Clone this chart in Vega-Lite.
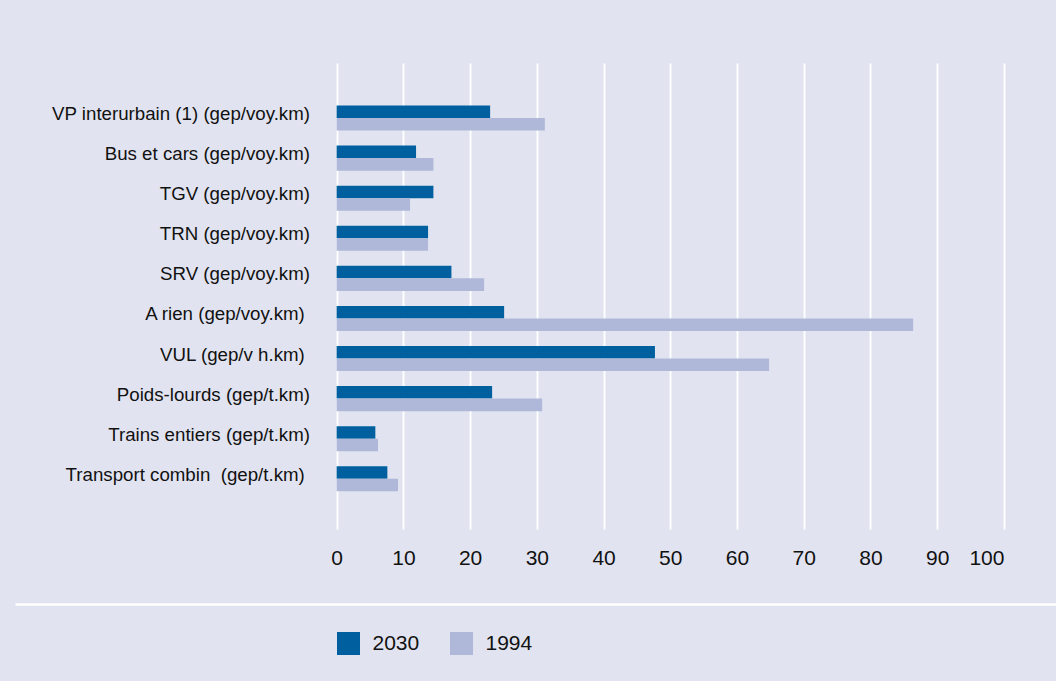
{
  "$schema": "https://vega.github.io/schema/vega-lite/v6.json",
  "width": 1041,
  "height": 466,
  "autosize": "none",
  "padding": {"left": 15, "top": 63, "right": 0, "bottom": 152},
  "background": "#e1e4f0",
  "config": {
    "view": {"stroke": null},
    "font": "Liberation Sans"
  },
  "data": {
    "values": [
      {"mode": "VP interurbain (1) (gep/voy.km)", "annee": "2030", "valeur": 23.0},
      {"mode": "VP interurbain (1) (gep/voy.km)", "annee": "1994", "valeur": 31.2},
      {"mode": "Bus et cars (gep/voy.km)", "annee": "2030", "valeur": 11.9},
      {"mode": "Bus et cars (gep/voy.km)", "annee": "1994", "valeur": 14.5},
      {"mode": "TGV (gep/voy.km)", "annee": "2030", "valeur": 14.5},
      {"mode": "TGV (gep/voy.km)", "annee": "1994", "valeur": 11.0},
      {"mode": "TRN (gep/voy.km)", "annee": "2030", "valeur": 13.7},
      {"mode": "TRN (gep/voy.km)", "annee": "1994", "valeur": 13.7},
      {"mode": "SRV (gep/voy.km)", "annee": "2030", "valeur": 17.2},
      {"mode": "SRV (gep/voy.km)", "annee": "1994", "valeur": 22.1},
      {"mode": "A rien (gep/voy.km)", "annee": "2030", "valeur": 25.1},
      {"mode": "A rien (gep/voy.km)", "annee": "1994", "valeur": 86.4},
      {"mode": "VUL (gep/v h.km)", "annee": "2030", "valeur": 47.7},
      {"mode": "VUL (gep/v h.km)", "annee": "1994", "valeur": 64.8},
      {"mode": "Poids-lourds (gep/t.km)", "annee": "2030", "valeur": 23.3},
      {"mode": "Poids-lourds (gep/t.km)", "annee": "1994", "valeur": 30.8},
      {"mode": "Trains entiers (gep/t.km)", "annee": "2030", "valeur": 5.8},
      {"mode": "Trains entiers (gep/t.km)", "annee": "1994", "valeur": 6.2},
      {"mode": "Transport combin\u00a0 (gep/t.km)", "annee": "2030", "valeur": 7.6},
      {"mode": "Transport combin\u00a0 (gep/t.km)", "annee": "1994", "valeur": 9.2}
    ]
  },
  "mark": {"type": "bar"},
  "encoding": {
    "y": {
      "field": "mode",
      "type": "nominal",
      "sort": [
        "VP interurbain (1) (gep/voy.km)",
        "Bus et cars (gep/voy.km)",
        "TGV (gep/voy.km)",
        "TRN (gep/voy.km)",
        "SRV (gep/voy.km)",
        "A rien (gep/voy.km)",
        "VUL (gep/v h.km)",
        "Poids-lourds (gep/t.km)",
        "Trains entiers (gep/t.km)",
        "Transport combin\u00a0 (gep/t.km)"
      ],
      "scale": {"paddingInner": 0.375, "paddingOuter": 1.0125, "align": 0.53},
      "axis": {
        "orient": "left",
        "offset": -321.8,
        "title": null,
        "domain": false,
        "ticks": false,
        "grid": false,
        "labelPadding": {"expr": "(datum.value == 'A rien (gep/voy.km)' || datum.value == 'VUL (gep/v h.km)' || datum.value == 'Transport combin\u00a0 (gep/t.km)') ? 32.5 : 27.3"},
        "labelFontSize": 18.7,
        "labelColor": "#111111",
        "labelLimit": 400,
        "labelBaseline": "alphabetic",
        "labelOffset": 2
      }
    },
    "yOffset": {
      "field": "annee",
      "type": "nominal",
      "sort": ["2030", "1994"],
      "scale": {"paddingInner": 0, "paddingOuter": 0}
    },
    "x": {
      "field": "valeur",
      "type": "quantitative",
      "scale": {"domain": [-48.2, 107.8], "nice": false, "zero": false},
      "axis": {
        "title": null,
        "orient": "bottom",
        "offset": 75,
        "values": [0, 10, 20, 30, 40, 50, 60, 70, 80, 90, 100],
        "grid": true,
        "gridColor": "#ffffff",
        "gridWidth": 1.8,
        "gridOpacity": 1,
        "domain": true,
        "domainColor": "#ffffff",
        "domainWidth": 2.5,
        "ticks": false,
        "tickSize": 0,
        "labelPadding": -39.5,
        "labelBaseline": "alphabetic",
        "labelFontSize": 21,
        "labelColor": "#111111",
        "labelFlush": false,
        "labelOverlap": false,
        "labelBound": false,
        "labelAlign": {"expr": "datum.value == 100 ? 'right' : 'center'"}
      }
    },
    "x2": {"datum": 0},
    "color": {
      "field": "annee",
      "type": "nominal",
      "scale": {"domain": ["2030", "1994"], "range": ["#00609f", "#afb8d8"]},
      "legend": {
        "orient": "none",
        "legendX": 322,
        "legendY": 569,
        "direction": "horizontal",
        "title": null,
        "padding": 0,
        "symbolType": "square",
        "symbolSize": 529,
        "symbolStrokeWidth": 0,
        "symbolOpacity": 1,
        "labelFontSize": 21,
        "labelColor": "#111111",
        "labelOffset": 12.5,
        "columnPadding": 30,
        "encode": {
          "symbols": {
            "update": {
              "fill": [
                {"test": "datum.value == '1994'", "value": "#9ba8cf"},
                {"value": "#00609f"}
              ]
            }
          }
        }
      }
    }
  }
}
